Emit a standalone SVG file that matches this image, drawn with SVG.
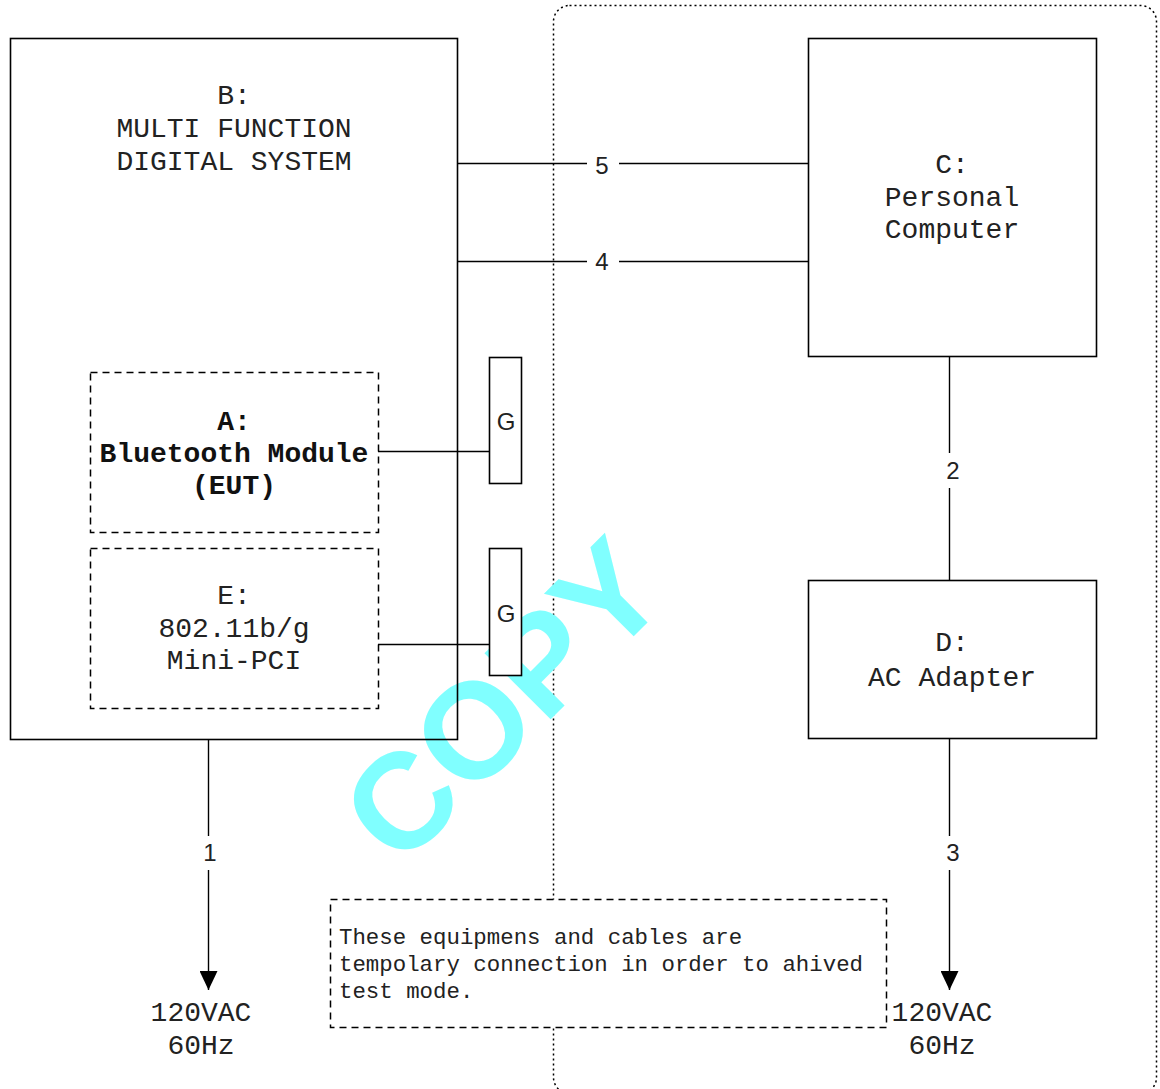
<svg xmlns="http://www.w3.org/2000/svg" width="1160" height="1089" viewBox="0 0 1160 1089">
<style>
.box{fill:none;stroke:#000;stroke-width:1.6}
.gbox{fill:#fff;stroke:#000;stroke-width:1.6}
.dash{fill:none;stroke:#000;stroke-width:1.5;stroke-dasharray:7,5}
.note{fill:#fff;stroke:#000;stroke-width:1.5;stroke-dasharray:7,5}
.dot{fill:none;stroke:#000;stroke-width:1.5;stroke-dasharray:2,3}
.ln{stroke:#000;stroke-width:1.4;fill:none}
.mono{font-family:"Liberation Mono","Courier New",monospace;font-size:28px;fill:#222;text-anchor:middle}
.bold{font-weight:bold;fill:#111}
.notet{font-family:"Liberation Mono","Courier New",monospace;font-size:22.4px;fill:#222}
.num{font-family:"Liberation Sans",Arial,sans-serif;font-size:24px;fill:#222;text-anchor:middle}
.wm{font-family:"Liberation Sans",Arial,sans-serif;font-weight:bold;font-size:136px;fill:#80ffff}
</style>
<defs>
<marker id="arr" markerUnits="userSpaceOnUse" markerWidth="20" markerHeight="18" refX="19" refY="9" orient="auto" viewBox="0 0 20 18">
<path d="M0,0 L19,9 L0,18 Z" fill="#000"/>
</marker>
</defs>

<g id="boundary">
<rect class="dot" x="553.5" y="5.5" width="603" height="1088" rx="16" ry="16"/>
</g>

<g id="watermark">
<text class="wm" x="400" y="870" transform="rotate(-45 400 870)">COPY</text>
</g>

<g id="node-B">
<rect class="box" x="10.5" y="38.5" width="447" height="701"/>
<text class="mono" x="234" y="104">B:</text>
<text class="mono" x="234" y="137">MULTI FUNCTION</text>
<text class="mono" x="234" y="170">DIGITAL SYSTEM</text>
</g>

<g id="node-A">
<rect class="dash" x="90.5" y="372.5" width="288" height="160"/>
<text class="mono bold" x="234" y="430">A:</text>
<text class="mono bold" x="234" y="462">Bluetooth Module</text>
<text class="mono bold" x="234" y="494">(EUT)</text>
</g>

<g id="node-E">
<rect class="dash" x="90.5" y="548.5" width="288" height="160"/>
<text class="mono" x="234" y="604">E:</text>
<text class="mono" x="234" y="637">802.11b/g</text>
<text class="mono" x="234" y="669">Mini-PCI</text>
</g>

<g id="node-C">
<rect class="box" x="808.5" y="38.5" width="288" height="318"/>
<text class="mono" x="952" y="173">C:</text>
<text class="mono" x="952" y="206">Personal</text>
<text class="mono" x="952" y="238">Computer</text>
</g>

<g id="node-D">
<rect class="box" x="808.5" y="580.5" width="288" height="158"/>
<text class="mono" x="952" y="651">D:</text>
<text class="mono" x="952" y="686">AC Adapter</text>
</g>

<g id="connectors">
<line class="ln" x1="457" y1="163.5" x2="587" y2="163.5"/>
<line class="ln" x1="619" y1="163.5" x2="808" y2="163.5"/>
<line class="ln" x1="457" y1="261.5" x2="587" y2="261.5"/>
<line class="ln" x1="619" y1="261.5" x2="808" y2="261.5"/>
<line class="ln" x1="949.5" y1="357" x2="949.5" y2="453"/>
<line class="ln" x1="949.5" y1="488" x2="949.5" y2="580"/>
<line class="ln" x1="949.5" y1="739" x2="949.5" y2="836"/>
<line class="ln" x1="949.5" y1="870" x2="949.5" y2="990" marker-end="url(#arr)"/>
<line class="ln" x1="208.5" y1="740" x2="208.5" y2="836"/>
<line class="ln" x1="208.5" y1="870" x2="208.5" y2="990" marker-end="url(#arr)"/>
<line class="ln" x1="378" y1="451.5" x2="489" y2="451.5"/>
<line class="ln" x1="378" y1="644.5" x2="489" y2="644.5"/>
<text class="num" x="602" y="174">5</text>
<text class="num" x="602" y="270">4</text>
<text class="num" x="953" y="479">2</text>
<text class="num" x="953" y="861">3</text>
<text class="num" x="210" y="861">1</text>
</g>

<g id="node-G1">
<rect class="gbox" x="489.5" y="357.5" width="32" height="126"/>
<text class="num" x="506" y="430">G</text>
</g>

<g id="node-G2">
<rect class="gbox" x="489.5" y="548.5" width="32" height="127"/>
<text class="num" x="506" y="622">G</text>
</g>

<g id="power-left">
<text class="mono" x="201" y="1021">120VAC</text>
<text class="mono" x="201" y="1054">60Hz</text>
</g>

<g id="power-right">
<text class="mono" x="942" y="1021">120VAC</text>
<text class="mono" x="942" y="1054">60Hz</text>
</g>

<g id="note">
<rect class="note" x="330.5" y="899.5" width="556" height="128"/>
<text class="notet" x="339" y="944">These equipmens and cables are</text>
<text class="notet" x="339" y="971">tempolary connection in order to ahived</text>
<text class="notet" x="339" y="998">test mode.</text>
</g>
</svg>
